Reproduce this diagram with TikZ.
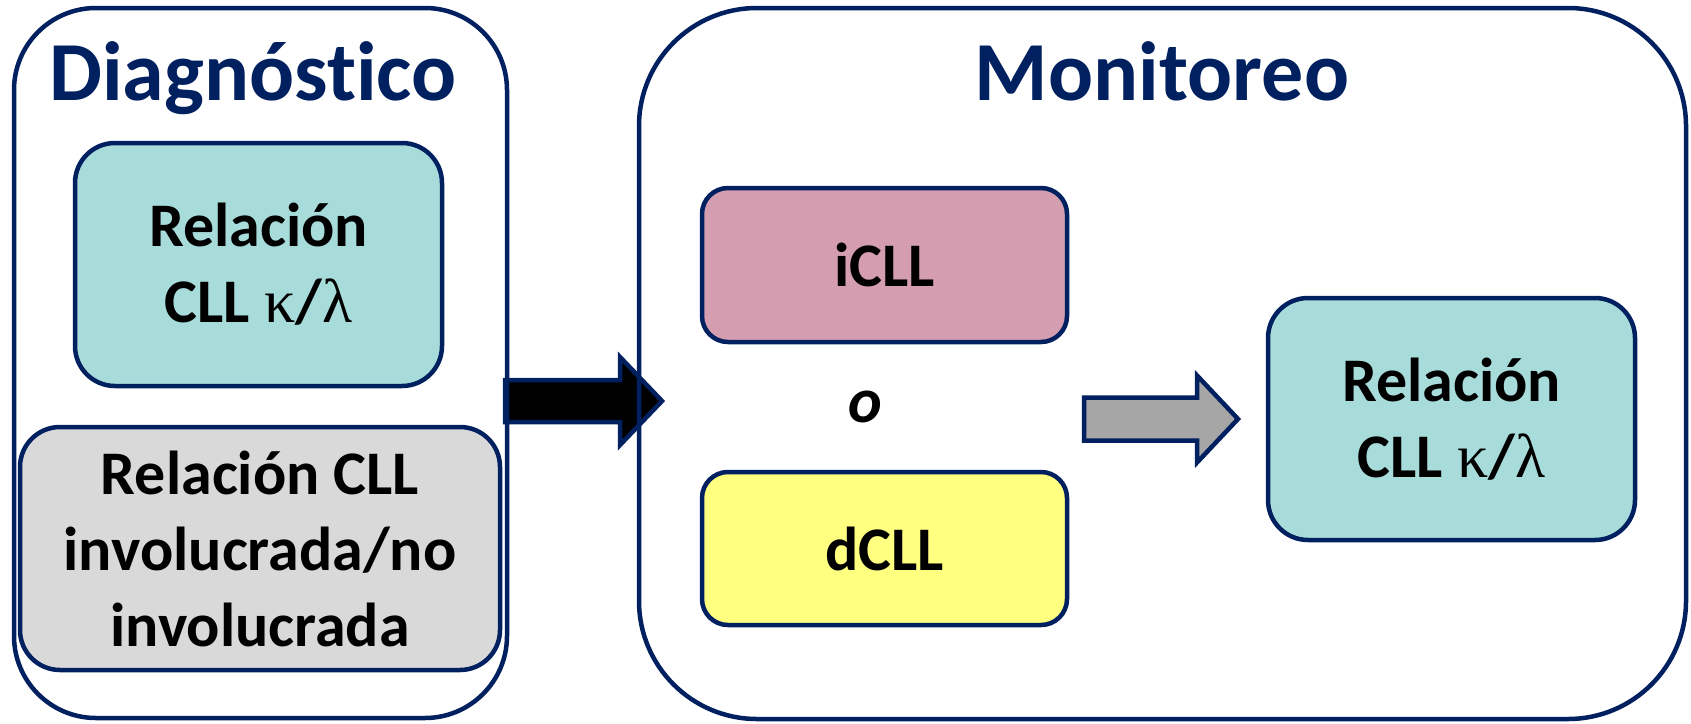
\documentclass[tikz,border=0pt]{standalone}
\usepackage{fontspec}
\setmainfont{Carlito}[Ligatures=NoCommon]
\newfontfamily\grk{Liberation Serif}
\usetikzlibrary{backgrounds,calc}
\definecolor{navy}{HTML}{002060}
\definecolor{tealfill}{HTML}{A8DCDB}
\definecolor{greyfill}{HTML}{D9D9D9}
\definecolor{pinkfill}{HTML}{D49DB0}
\definecolor{yellowfill}{HTML}{FFFF80}
\definecolor{arrowgrey}{HTML}{A6A6A6}
\newcommand{\kl}{{\grk\mdseries κ}/{\grk\mdseries λ}}
\begin{document}
\begin{tikzpicture}[x=1pt,y=-1pt,
  panel/.style={draw=navy, line width=4.5pt, rounded corners=#1, inner sep=0pt, outer sep=0pt},
  box/.style={draw=navy, line width=4.5pt, rounded corners=#1, inner sep=0pt, outer sep=0pt,
    align=center, font=\fontsize{62}{76}\selectfont\bfseries, text=black},
  title/.style={anchor=base, text=navy, font=\fontsize{84}{100}\selectfont\bfseries},
  blockarrow/.style={draw=navy, line width=4.5pt, line join=miter}]
\path[use as bounding box] (0,0) rectangle (1691,723);

% outer panels
\node[panel=82pt, minimum width=493pt, minimum height=710pt] (diag) at (260.5,363) {};
\node[panel=118pt, minimum width=1047pt, minimum height=711pt] (mon) at (1162.5,363.5) {};

% titles
\node[title] (tdiag) at (253,100) {Diagnóstico};
\node[title] (tmon) at (1162,100) {Monitoreo};

% diagnosis boxes
\node[box=40pt, fill=tealfill, minimum width=367pt, minimum height=243pt] (rel1) at (258.5,264.5)
  {Relación\\CLL \kl};
\node[box=40pt, fill=greyfill, minimum width=480pt, minimum height=243pt] (inv) at (260,548.5)
  {Relación CLL\\involucrada/no\\involucrada};

% monitoring boxes
\node[box=26pt, fill=pinkfill, minimum width=365pt, minimum height=154pt] (icll) at (884.5,265) {iCLL};
\node[anchor=base, font=\fontsize{64}{76}\selectfont\bfseries\itshape] (oo) at (865,422) {o};
\node[box=26pt, fill=yellowfill, minimum width=365pt, minimum height=153pt] (dcll) at (884.5,548.5) {dCLL};
\node[box=40pt, fill=tealfill, minimum width=367pt, minimum height=242pt] (rel2) at (1451.5,419)
  {Relación\\CLL \kl};

% block arrows, kept beneath the panel outlines
\begin{scope}[on background layer]
\fill[white] (0,0) rectangle (1691,723);
\coordinate (btail) at ([xshift=-2pt,yshift=-38pt]diag.east);
\coordinate (btip) at ([xshift=23pt,yshift=-37.5pt]mon.west);
\draw[blockarrow, fill=black]
  ($(btail)+(0,-21)$) -- ($(btip)+(-42,-21)$) -- ($(btip)+(-42,-44)$) -- (btip)
  -- ($(btip)+(-42,44)$) -- ($(btip)+(-42,21)$) -- ($(btail)+(0,21)$) -- cycle;
\coordinate (gtail) at ([xshift=17pt]icll.east |- rel2.west);
\coordinate (gtip) at ([xshift=-30pt]rel2.west);
\draw[blockarrow, fill=arrowgrey]
  ($(gtail)+(0,-21.5)$) -- ($(gtip)+(-41,-21.5)$) -- ($(gtip)+(-41,-43.5)$) -- (gtip)
  -- ($(gtip)+(-41,43.5)$) -- ($(gtip)+(-41,21.5)$) -- ($(gtail)+(0,21.5)$) -- cycle;
\end{scope}
\end{tikzpicture}
\end{document}
